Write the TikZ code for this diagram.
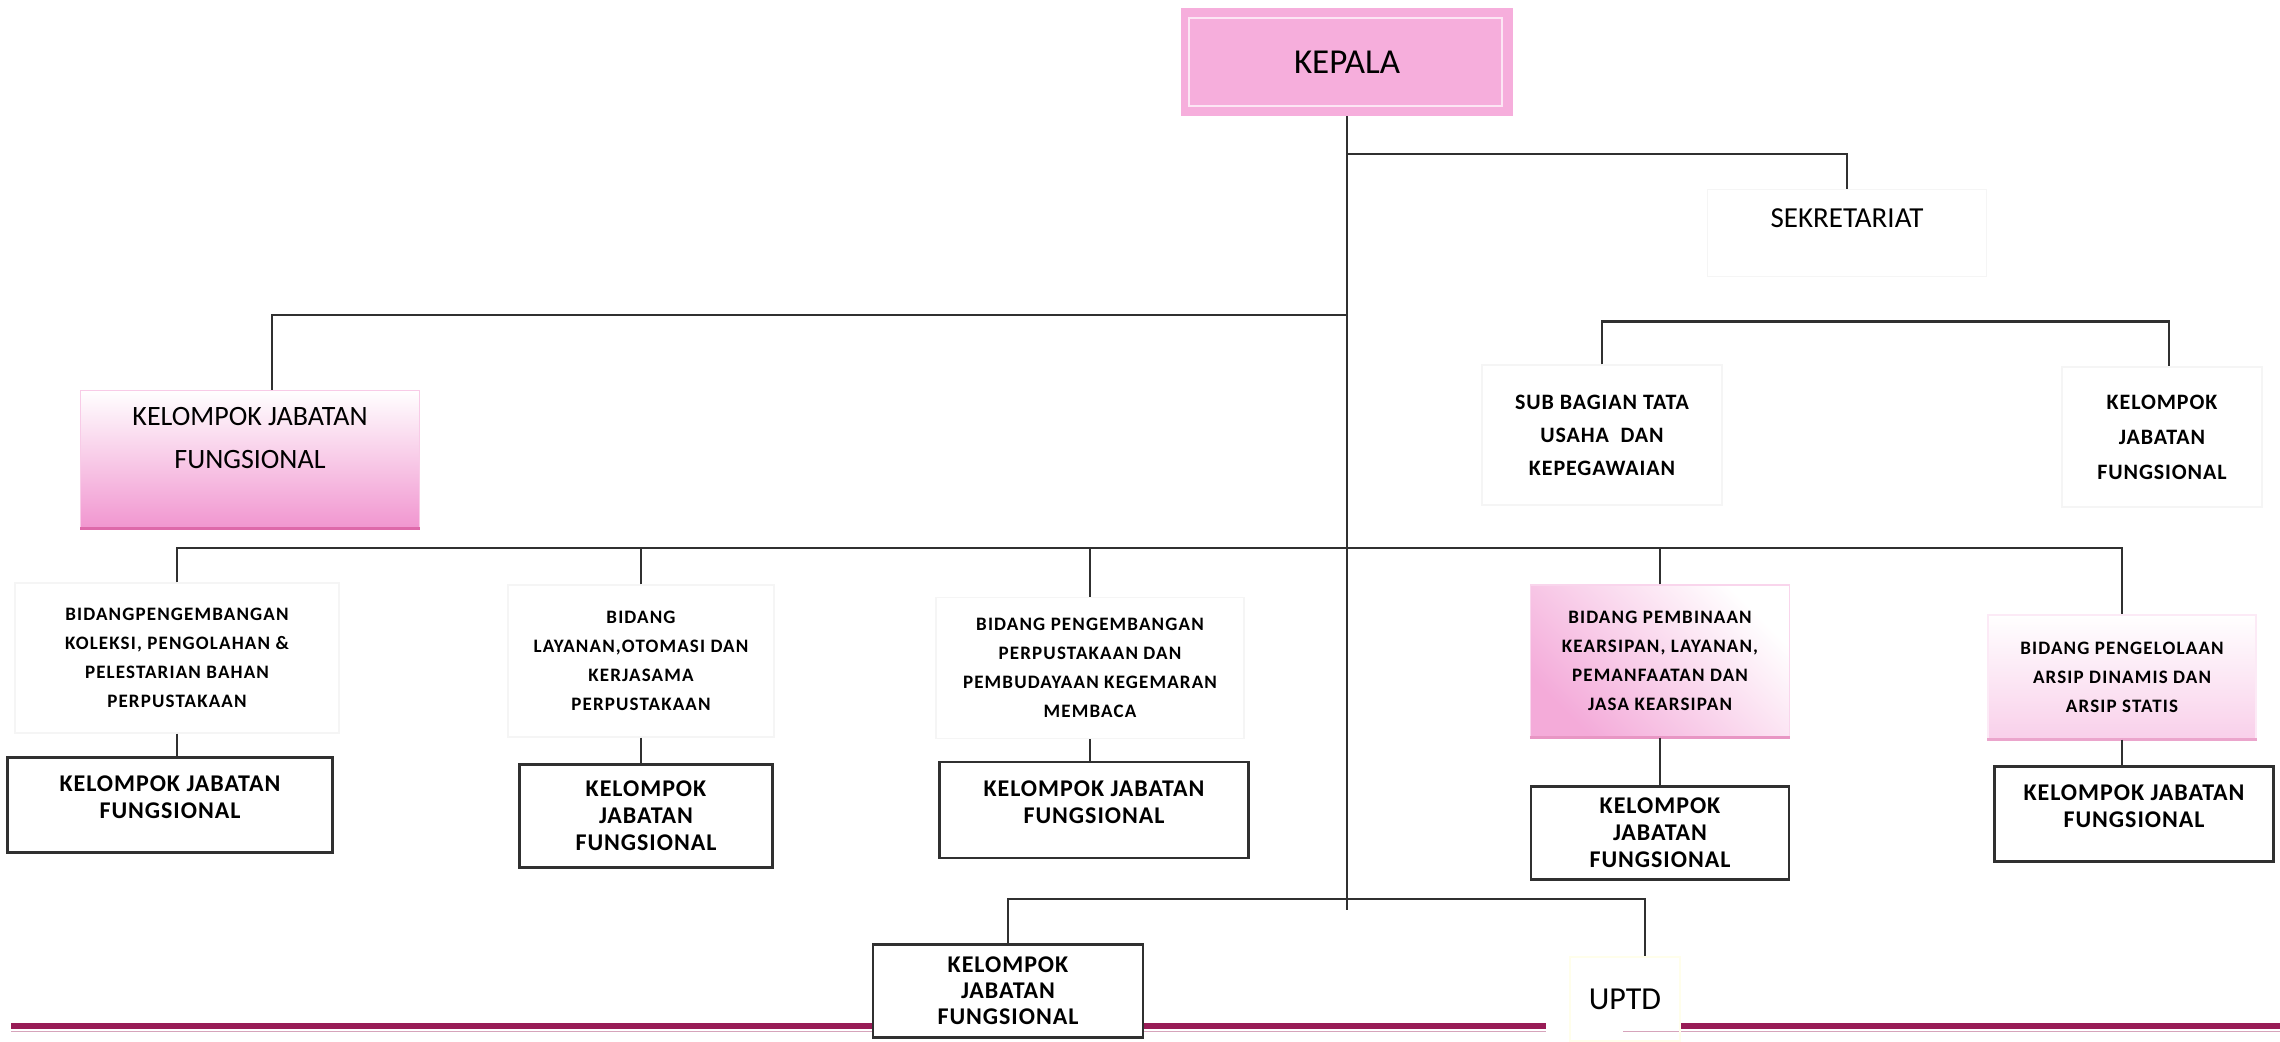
\documentclass[tikz,border=0pt]{standalone}
\usepackage{fontspec}
\setmainfont{Carlito}
\newfontfamily\bidangfont{Carlito}[LetterSpace=6]
\newfontfamily\kotakfont{Carlito}[LetterSpace=4]

\definecolor{kepalapink}{RGB}{246,174,220}
\definecolor{softpink}{RGB}{241,150,208}
\definecolor{edgepink}{RGB}{222,105,170}
\definecolor{linegray}{RGB}{48,48,48}
\definecolor{barmagenta}{RGB}{152,28,86}

\begin{document}
\begin{tikzpicture}[x=1pt,y=-1pt]

\tikzset{unit/.style = {shape=rectangle, align=center, inner sep=0pt}}
\tikzset{faint/.style = {unit, draw=black!4, line width=1.2pt}}
\tikzset{bidang/.style = {faint, font=\bidangfont\bfseries\fontsize{19}{29}\selectfont}}
\tikzset{staf/.style = {faint, font=\kotakfont\bfseries\fontsize{22}{33}\selectfont}}
\tikzset{kjf/.style = {unit, draw=linegray, line width=2.5pt, fill=white, font=\kotakfont\bfseries\fontsize{24}{27}\selectfont}}
\tikzset{edge/.style = {draw=linegray, line width=2.2pt}}

\useasboundingbox (0,0) rectangle (2280,1041);

%bottom bar
\fill[barmagenta] (11,1023) rectangle (1546,1029);
\fill[barmagenta] (1680,1023) rectangle (2280,1029);
\draw[barmagenta!40, line width=1pt] (11,1031.5) -- (1546,1031.5);
\draw[barmagenta!40, line width=1pt] (1623,1031.5) -- (2280,1031.5);

%boxes
\node[unit, fill=kepalapink, minimum width=332, minimum height=108, font=\fontsize{35}{40}\selectfont] (kepala) at (1347,62) {KEPALA};
\draw[white, opacity=0.7, line width=1.5pt] (1189,18) rectangle (1502,106);

\node[faint, minimum width=279, minimum height=87, font=\fontsize{29}{30}\selectfont] (sekretariat) at (1847,233) {SEKRETARIAT\\ \mbox{}};

\node[unit, minimum width=339, minimum height=138, top color=white, middle color=white, bottom color=softpink, draw=softpink!50, line width=1pt, font=\fontsize{28}{43}\selectfont] (kjfkiri) at (250,459) {KELOMPOK JABATAN\\FUNGSIONAL\\ \mbox{}};
\draw[edgepink, line width=3pt] (kjfkiri.south west) -- (kjfkiri.south east);

\node[staf, minimum width=240, minimum height=140] (subbag) at (1602,435) {SUB BAGIAN TATA\\USAHA\ \ DAN\\KEPEGAWAIAN};
\node[staf, minimum width=200, minimum height=140, font=\kotakfont\bfseries\fontsize{22}{35}\selectfont] (kjfkanan) at (2162,437) {KELOMPOK\\JABATAN\\FUNGSIONAL};

\node[bidang, minimum width=324, minimum height=150] (bidang1) at (177,658) {BIDANGPENGEMBANGAN\\KOLEKSI, PENGOLAHAN \&\\PELESTARIAN BAHAN\\PERPUSTAKAAN};
\node[bidang, minimum width=266, minimum height=152] (bidang2) at (641,661) {BIDANG\\LAYANAN,OTOMASI DAN\\KERJASAMA\\PERPUSTAKAAN};
\node[bidang, minimum width=308, minimum height=141] (bidang3) at (1090,668) {BIDANG PENGEMBANGAN\\PERPUSTAKAAN DAN\\PEMBUDAYAAN KEGEMARAN\\MEMBACA};
\node[bidang, minimum width=259, minimum height=152, draw=softpink!40, top color=white, bottom color=softpink!80, shading angle=-45] (bidang4) at (1660,661) {BIDANG PEMBINAAN\\KEARSIPAN, LAYANAN,\\PEMANFAATAN DAN\\JASA KEARSIPAN};
\node[bidang, minimum width=268, minimum height=124, draw=softpink!20, top color=white, bottom color=softpink!45] (bidang5) at (2122,677) {BIDANG PENGELOLAAN\\ARSIP DINAMIS DAN\\ARSIP STATIS};
\draw[edgepink!70, line width=2.5pt] (bidang4.south west) -- (bidang4.south east);
\draw[edgepink!60, line width=2.5pt] (bidang5.south west) -- (bidang5.south east);

\node[kjf, minimum width=325, minimum height=95] (kjf1) at (170,805) {KELOMPOK JABATAN\\FUNGSIONAL\\[-12pt] \mbox{}};
\node[kjf, minimum width=253, minimum height=103] (kjf2) at (646,816) {KELOMPOK\\JABATAN\\FUNGSIONAL};
\node[kjf, minimum width=309, minimum height=96] (kjf3) at (1094,810) {KELOMPOK JABATAN\\FUNGSIONAL\\[-12pt] \mbox{}};
\node[kjf, minimum width=258, minimum height=93] (kjf4) at (1660,833) {KELOMPOK\\JABATAN\\FUNGSIONAL};
\node[kjf, minimum width=279, minimum height=95] (kjf5) at (2134,814) {KELOMPOK JABATAN\\FUNGSIONAL\\[-12pt] \mbox{}};
\node[kjf, minimum width=270, minimum height=93, font=\kotakfont\bfseries\fontsize{24}{26}\selectfont] (kjfbawah) at (1008,991) {KELOMPOK\\JABATAN\\FUNGSIONAL};

\node[unit, draw=yellow!8, line width=1.5pt, minimum width=110, minimum height=84, font=\fontsize{32}{36}\selectfont] (uptd) at (1625,999) {UPTD};

%junctions
\coordinate (jsek) at (1347,154);
\coordinate (jkiri) at (1347,315);
\coordinate (jmid) at (1347,548);
\coordinate (jbawah) at (1347,899);
\coordinate (ujung) at (1347,910);

%lines
\draw[edge] (kepala.south) -- (ujung);
\draw[edge] (jsek) -| (sekretariat.north);
\draw[edge] (jkiri) -| ([xshift=22pt]kjfkiri.north);
\draw[edge] (subbag.north) -- ++(0,-43) -| ([xshift=7pt]kjfkanan.north);
\draw[edge] (bidang1.north) |- (jmid) -| (bidang5.north);
\draw[edge] (bidang2.north) -- (bidang2.north |- jmid);
\draw[edge] (bidang3.north) -- (bidang3.north |- jmid);
\draw[edge] (bidang4.north) -- (bidang4.north |- jmid);
\draw[edge] (bidang1.south) -- (bidang1.south |- kjf1.north);
\draw[edge] (bidang2.south) -- (bidang2.south |- kjf2.north);
\draw[edge] (bidang3.south) -- (bidang3.south |- kjf3.north);
\draw[edge] (bidang4.south) -- (bidang4.south |- kjf4.north);
\draw[edge] (bidang5.south) -- (bidang5.south |- kjf5.north);
\draw[edge] (kjfbawah.north) |- (jbawah) -| ([xshift=20pt]uptd.north);

\end{tikzpicture}
\end{document}
